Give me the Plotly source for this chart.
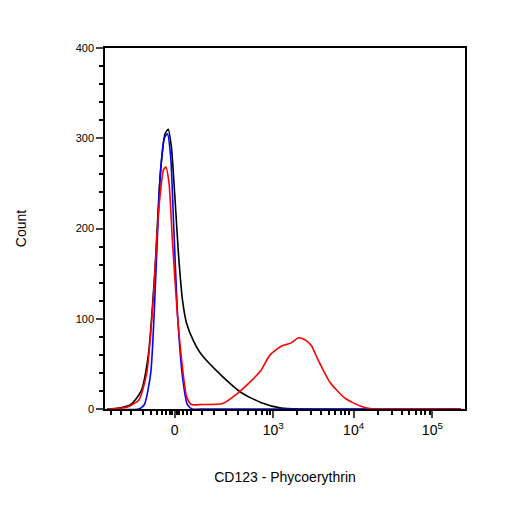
import math
import plotly.graph_objects as go

# display units: 0 at the zero tick, roughly one unit per decade above 10^3
black_x = [-0.85, -0.7, -0.55, -0.42, -0.33, -0.25, -0.18, -0.12, -0.08, -0.04, 0.0, 0.05, 0.1, 0.15, 0.24, 0.34, 0.59, 0.84, 1.09, 1.34, 1.6, 3.6]
black_y = [0, 1, 5, 20, 60, 150, 260, 305, 310, 290, 240, 170, 120, 95, 75, 60, 37, 18, 7, 1, 0, 0]
blue_x = [-0.85, -0.45, -0.38, -0.3, -0.24, -0.18, -0.13, -0.09, -0.05, -0.01, 0.04, 0.1, 0.16, 0.22, 0.4, 3.6]
blue_y = [0, 0, 5, 40, 140, 260, 300, 305, 280, 200, 100, 35, 5, 0, 0, 0]
red_x = [-0.85, -0.6, -0.45, -0.35, -0.27, -0.2, -0.14, -0.11, -0.07, -0.03, 0.03, 0.09, 0.15, 0.21, 0.34, 0.6, 0.8, 0.95, 1.08, 1.2, 1.35, 1.46, 1.56, 1.65, 1.72, 1.8, 1.95, 2.14, 2.34, 2.5, 2.8, 3.6]
red_y = [0, 2, 10, 40, 120, 220, 265, 268, 250, 190, 110, 53, 14, 5, 5, 6, 18, 30, 42, 60, 70, 73, 79, 76, 70, 55, 30, 12, 3, 0, 0, 0]

major_vals = [0, 1.24, 2.25, 3.24]
major_text = ["0", "10<sup>3</sup>", "10<sup>4</sup>", "10<sup>5</sup>"]

minor_vals = [-0.8, -0.68, -0.55, -0.4, -0.3, -0.22, -0.16, -0.11, -0.06, -0.03, 0.03, 0.06, 0.1, 0.15, 0.2, 0.35, 0.5, 0.65, 0.8, 0.92, 1.02, 1.1, 1.16, 1.2]
for k, base in [(3, 1.24), (4, 2.25)]:
    for m in range(2, 10):
        minor_vals.append(base + math.log10(m))

fig = go.Figure()
for xs, ys, c in [(black_x, black_y, "black"), (blue_x, blue_y, "blue"), (red_x, red_y, "red")]:
    fig.add_trace(go.Scatter(x=xs, y=ys, mode="lines",
                             line=dict(color=c, width=1.6, shape="spline", smoothing=0.6),
                             showlegend=False))

fig.update_layout(
    width=506, height=506, plot_bgcolor="white", paper_bgcolor="white",
    margin=dict(l=95, r=49, t=40, b=105),
    font=dict(family="Liberation Sans, Arial", size=12, color="black"),
    xaxis=dict(range=[-0.875, 3.65], tickvals=major_vals, ticktext=major_text,
               ticks="outside", ticklen=7, tickwidth=2, showgrid=False, zeroline=False,
               showline=True, linecolor="black", linewidth=1.5, mirror=True,
               minor=dict(tickvals=minor_vals, ticks="outside", ticklen=4, tickcolor="black"),
               title=dict(text="CD123 - Phycoerythrin", standoff=36), tickfont=dict(size=14)),
    yaxis=dict(range=[0, 400], tickvals=[0, 100, 200, 300, 400], ticks="outside", ticklen=7,
               tickwidth=1.5, showgrid=False, zeroline=False, showline=True, linecolor="black",
               linewidth=1.5, mirror=True,
               minor=dict(dtick=20, ticks="outside", ticklen=4, tickcolor="black"),
               title=dict(text="Count", standoff=46), tickfont=dict(size=11)),
)
fig.write_html("out.html")
